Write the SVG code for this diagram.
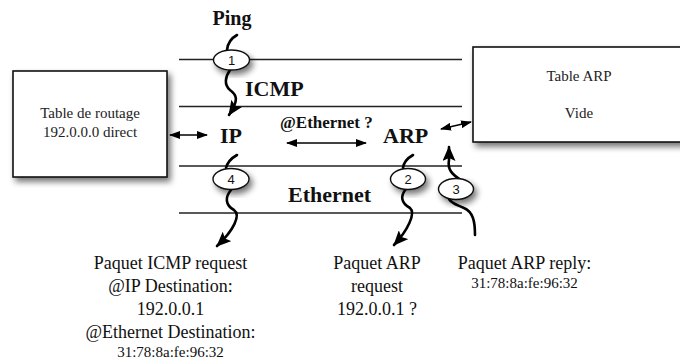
<svg xmlns="http://www.w3.org/2000/svg" width="680" height="363" viewBox="0 0 680 363">
<style>
.lay{stroke:#222;stroke-width:1.3;fill:none}
.box{fill:#fff;stroke:#111;stroke-width:1.6}
.bd{font-family:"Liberation Serif","Times New Roman",serif;font-weight:bold;fill:#111}
.tx{font-family:"Liberation Serif","Times New Roman",serif;font-size:15px;fill:#222;text-anchor:middle}
.lb{font-family:"Liberation Serif","Times New Roman",serif;font-size:18px;fill:#111;text-anchor:middle}
.sm{font-family:"Liberation Serif","Times New Roman",serif;font-size:15px;fill:#111;text-anchor:middle}
.el{fill:#fff;stroke:#111;stroke-width:1.4}
.en{font-family:"Liberation Sans",Arial,sans-serif;font-size:13px;fill:#111;text-anchor:middle}
.sq{fill:none;stroke:#000;stroke-width:2.6;stroke-linecap:round}
.dbl{fill:none;stroke:#000;stroke-width:1.5}
</style>
<defs>
<filter id="sh" x="-20%" y="-20%" width="150%" height="160%">
<feGaussianBlur in="SourceAlpha" stdDeviation="3"/>
<feOffset dx="3" dy="4" result="b"/>
<feComponentTransfer><feFuncA type="linear" slope="0.55"/></feComponentTransfer>
<feMerge><feMergeNode/><feMergeNode in="SourceGraphic"/></feMerge>
</filter>
<marker id="ah" markerUnits="userSpaceOnUse" markerWidth="16" markerHeight="13" refX="14" refY="6.5" orient="auto">
<path d="M0,0 L15,6.5 L0,13 L3,6.5 z" fill="#000"/>
</marker>
<marker id="sa" markerUnits="userSpaceOnUse" markerWidth="11" markerHeight="8" refX="10" refY="4" orient="auto-start-reverse">
<path d="M0,0 L11,4 L0,8 z" fill="#000"/>
</marker>
</defs>

<g id="layers">
<line class="lay" x1="179" y1="59.5" x2="462" y2="59.5"/>
<line class="lay" x1="179" y1="106.5" x2="462" y2="106.5"/>
<line class="lay" x1="179" y1="166" x2="462" y2="166"/>
<line class="lay" x1="179" y1="213" x2="462" y2="213"/>
</g>

<g id="table-routage">
<rect class="box" x="13" y="71" width="154" height="106" filter="url(#sh)"/>
<text class="tx" x="90" y="118">Table de routage</text>
<text class="tx" x="90" y="137">192.0.0.0 direct</text>
</g>

<g id="table-arp">
<rect class="box" x="473" y="47" width="215" height="95" filter="url(#sh)"/>
<text class="tx" x="579" y="81">Table ARP</text>
<text class="tx" x="579" y="118">Vide</text>
</g>

<g id="ping"><text class="bd" x="232" y="25" font-size="20" text-anchor="middle">Ping</text></g>
<g id="icmp"><text class="bd" x="245" y="96" font-size="22">ICMP</text></g>
<g id="ip"><text class="bd" x="220" y="143" font-size="22">IP</text></g>
<g id="arp"><text class="bd" x="383" y="143" font-size="22">ARP</text></g>
<g id="ethernet"><text class="bd" x="288" y="202" font-size="22">Ethernet</text></g>
<g id="q-ethernet"><text class="bd" x="280" y="128" font-size="17">@Ethernet ?</text></g>

<g id="connectors">
<path class="sq" d="M237,35 Q228,40 227,50"/>
<path class="sq" d="M230,70 C225,77 224,85 230,90 C237,95 239,100 229,115" marker-end="url(#ah)"/>
<path class="sq" d="M237,155 Q228,160 226,168"/>
<path class="sq" d="M231,190 C225,197 225,205 234,210 C241,215 234,230 217,246" marker-end="url(#ah)"/>
<path class="sq" d="M413,155 Q404,160 403,168"/>
<path class="sq" d="M406,189 C400,196 401,203 410,208 C416,213 408,230 394,245" marker-end="url(#ah)"/>
<path class="sq" d="M475,235 C475,221 473,212 464,208 C458,205 452,204 449,199"/>
<path class="sq" d="M461,180 C453,175 447,170 449,160 L449,147" marker-end="url(#ah)"/>
<line class="dbl" x1="170" y1="135" x2="207" y2="135" marker-start="url(#sa)" marker-end="url(#sa)"/>
<line class="dbl" x1="287" y1="143" x2="366" y2="143" marker-start="url(#sa)" marker-end="url(#sa)"/>
<line class="dbl" x1="441" y1="129" x2="471" y2="122" marker-start="url(#sa)" marker-end="url(#sa)"/>
</g>

<g id="step1"><ellipse class="el" cx="231.5" cy="60" rx="18" ry="10" filter="url(#sh)"/><text class="en" x="231.5" y="64.5">1</text></g>
<g id="step4"><ellipse class="el" cx="231" cy="179" rx="18" ry="10.5" filter="url(#sh)"/><text class="en" x="231" y="183.5">4</text></g>
<g id="step2"><ellipse class="el" cx="408" cy="179" rx="17.5" ry="10.5" filter="url(#sh)"/><text class="en" x="408" y="183.5">2</text></g>
<g id="step3"><ellipse class="el" cx="456" cy="189" rx="17.5" ry="10.5" filter="url(#sh)"/><text class="en" x="456" y="193.5">3</text></g>

<g id="paquet-icmp">
<text class="lb" x="170.5" y="269">Paquet ICMP request</text>
<text class="lb" x="170.5" y="292">@IP Destination:</text>
<text class="lb" x="170.5" y="315">192.0.0.1</text>
<text class="lb" x="170.5" y="338">@Ethernet Destination:</text>
<text class="sm" x="170.5" y="357">31:78:8a:fe:96:32</text>
</g>

<g id="paquet-arp-request">
<text class="lb" x="377" y="269">Paquet ARP</text>
<text class="lb" x="377" y="292">request</text>
<text class="lb" x="377" y="315">192.0.0.1 ?</text>
</g>

<g id="paquet-arp-reply">
<text class="lb" x="524.5" y="269">Paquet ARP reply:</text>
<text class="sm" x="524.5" y="288">31:78:8a:fe:96:32</text>
</g>
</svg>
